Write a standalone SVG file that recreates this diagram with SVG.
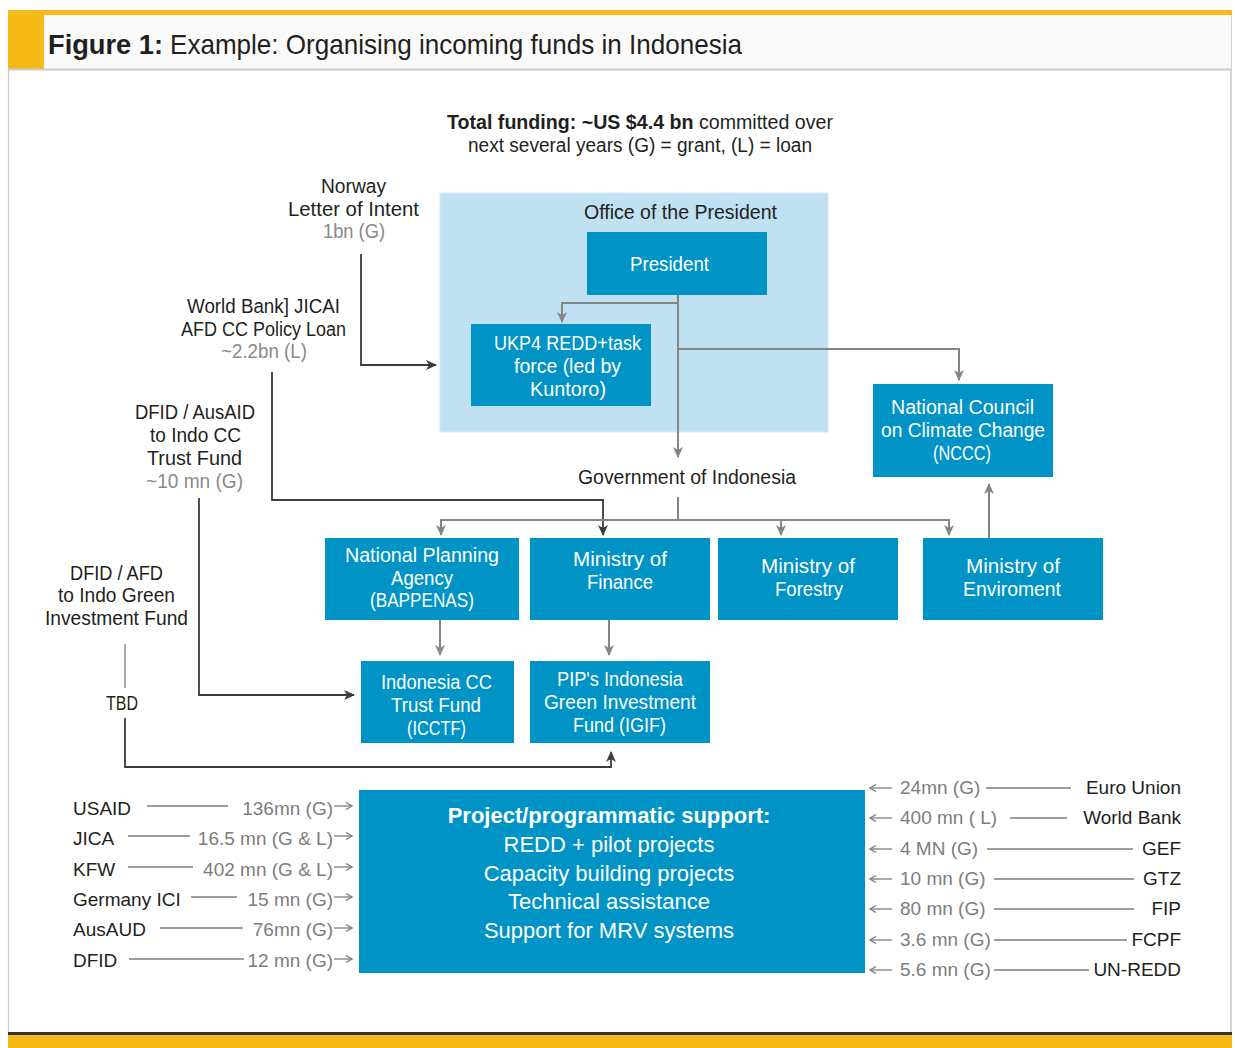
<svg xmlns="http://www.w3.org/2000/svg" width="1235" height="1048" viewBox="0 0 1235 1048">
<style>
.c{font-family:"Liberation Sans",Arial,sans-serif;font-size:20px;fill:#231f20}
.cw{font-family:"Liberation Sans",Arial,sans-serif;font-size:20px;fill:#ffffff}
.cg{font-family:"Liberation Sans",Arial,sans-serif;font-size:20px;fill:#8a8a8a}
.m{font-family:"Liberation Sans",Arial,sans-serif;font-size:19px;fill:#231f20}
.mg{font-family:"Liberation Sans",Arial,sans-serif;font-size:19px;fill:#7d7d7d}
.pw{font-family:"Liberation Sans",Arial,sans-serif;font-size:22px;fill:#ffffff;text-anchor:middle}
.box{fill:#0093c6}
.g{fill:none;stroke:#858585;stroke-width:2}
.d{fill:none;stroke:#3c3c3c;stroke-width:1.8}
.l{fill:none;stroke:#7d7d7d;stroke-width:1.3}
</style>
<defs>
<marker id="ag" markerWidth="12" markerHeight="12" refX="10" refY="6" orient="auto" markerUnits="userSpaceOnUse"><path d="M0,1 L11,6 L0,11 L3,6 z" fill="#858585"/></marker>
<marker id="ad" markerWidth="12" markerHeight="12" refX="10" refY="6" orient="auto" markerUnits="userSpaceOnUse"><path d="M0,1 L11,6 L0,11 L3,6 z" fill="#3c3c3c"/></marker>
<marker id="as" markerWidth="10" markerHeight="10" refX="8" refY="5" orient="auto" markerUnits="userSpaceOnUse"><path d="M2,1.5 L8,5 L2,8.5" fill="none" stroke="#7d7d7d" stroke-width="1.4"/></marker>
</defs>
<rect x="0" y="0" width="1235" height="1048" fill="#ffffff"/>
<g id="frame">
<line x1="8.5" y1="10" x2="8.5" y2="1035" stroke="#c8c8c8" stroke-width="1.2"/>
<line x1="1231" y1="10" x2="1231" y2="1035" stroke="#c8c8c8" stroke-width="1.5"/>
<rect x="44" y="15" width="1187" height="54" fill="#fafafa"/>
<rect x="8" y="10" width="1224" height="5" fill="#f5b918"/>
<rect x="8" y="10" width="36" height="59" fill="#f5b918"/>
<line x1="8" y1="69.5" x2="1232" y2="69.5" stroke="#cccccc" stroke-width="2"/>
<rect x="8" y="1032" width="1224" height="3" fill="#333333"/>
<rect x="8" y="1035" width="1224" height="13" fill="#f5b918"/>
<text x="48" y="54" style="font-family:'Liberation Sans',Arial,sans-serif;font-size:28px;font-weight:bold;fill:#231f20" textLength="115" lengthAdjust="spacingAndGlyphs">Figure 1:</text>
<text x="170" y="54" style="font-family:'Liberation Sans',Arial,sans-serif;font-size:28px;fill:#231f20" textLength="572" lengthAdjust="spacingAndGlyphs">Example: Organising incoming funds in Indonesia</text>
</g>
<g id="total">
<text x="447" y="129" class="c" textLength="386" lengthAdjust="spacingAndGlyphs"><tspan font-weight="bold">Total funding: ~US $4.4 bn</tspan> committed over</text>
<text x="468" y="152" class="c" textLength="344" lengthAdjust="spacingAndGlyphs">next several years (G) = grant, (L) = loan</text>
</g>
<g id="office">
<rect x="440" y="193" width="388" height="239" fill="#bfe1f1" stroke="#d6ecf7" stroke-width="1"/>
<text x="584" y="219" class="c" textLength="193" lengthAdjust="spacingAndGlyphs">Office of the President</text>
</g>
<g id="president">
<rect x="587" y="232" width="180" height="63" class="box"/>
<text x="630" y="271" class="cw" textLength="79" lengthAdjust="spacingAndGlyphs">President</text>
</g>
<g id="ukp4">
<rect x="471" y="324" width="180" height="82" class="box"/>
<text x="494" y="350" class="cw" textLength="147" lengthAdjust="spacingAndGlyphs">UKP4 REDD+task</text>
<text x="514" y="373" class="cw" textLength="107" lengthAdjust="spacingAndGlyphs">force (led by</text>
<text x="530" y="396" class="cw" textLength="76" lengthAdjust="spacingAndGlyphs">Kuntoro)</text>
</g>
<g id="nccc">
<rect x="873" y="384" width="180" height="93" class="box"/>
<text x="891" y="414" class="cw" textLength="143" lengthAdjust="spacingAndGlyphs">National Council</text>
<text x="881" y="437" class="cw" textLength="164" lengthAdjust="spacingAndGlyphs">on Climate Change</text>
<text x="933" y="460" class="cw" textLength="58" lengthAdjust="spacingAndGlyphs">(NCCC)</text>
</g>
<g id="government">
<text x="578" y="484" class="c" textLength="218" lengthAdjust="spacingAndGlyphs">Government of Indonesia</text>
</g>
<g id="bappenas">
<rect x="325" y="538" width="194" height="82" class="box"/>
<text x="345" y="562" class="cw" textLength="154" lengthAdjust="spacingAndGlyphs">National Planning</text>
<text x="391" y="585" class="cw" textLength="62" lengthAdjust="spacingAndGlyphs">Agency</text>
<text x="370" y="607" class="cw" textLength="104" lengthAdjust="spacingAndGlyphs">(BAPPENAS)</text>
</g>
<g id="finance">
<rect x="530" y="538" width="180" height="82" class="box"/>
<text x="573" y="566" class="cw" textLength="94" lengthAdjust="spacingAndGlyphs">Ministry of</text>
<text x="587" y="589" class="cw" textLength="66" lengthAdjust="spacingAndGlyphs">Finance</text>
</g>
<g id="forestry">
<rect x="718" y="538" width="180" height="82" class="box"/>
<text x="761" y="573" class="cw" textLength="94" lengthAdjust="spacingAndGlyphs">Ministry of</text>
<text x="775" y="596" class="cw" textLength="68" lengthAdjust="spacingAndGlyphs">Forestry</text>
</g>
<g id="environment">
<rect x="923" y="538" width="180" height="82" class="box"/>
<text x="966" y="573" class="cw" textLength="94" lengthAdjust="spacingAndGlyphs">Ministry of</text>
<text x="963" y="596" class="cw" textLength="98" lengthAdjust="spacingAndGlyphs">Enviroment</text>
</g>
<g id="icctf">
<rect x="361" y="661" width="153" height="82" class="box"/>
<text x="381" y="689" class="cw" textLength="111" lengthAdjust="spacingAndGlyphs">Indonesia CC</text>
<text x="391" y="712" class="cw" textLength="90" lengthAdjust="spacingAndGlyphs">Trust Fund</text>
<text x="407" y="735" class="cw" textLength="59" lengthAdjust="spacingAndGlyphs">(ICCTF)</text>
</g>
<g id="igif">
<rect x="530" y="661" width="180" height="82" class="box"/>
<text x="557" y="686" class="cw" textLength="126" lengthAdjust="spacingAndGlyphs">PIP's Indonesia</text>
<text x="544" y="709" class="cw" textLength="152" lengthAdjust="spacingAndGlyphs">Green Investment</text>
<text x="573" y="732" class="cw" textLength="93" lengthAdjust="spacingAndGlyphs">Fund (IGIF)</text>
</g>
<g id="norway">
<text x="321" y="193" class="c" textLength="65" lengthAdjust="spacingAndGlyphs">Norway</text>
<text x="288" y="216" class="c" textLength="131" lengthAdjust="spacingAndGlyphs">Letter of Intent</text>
<text x="323" y="238" class="cg" textLength="62" lengthAdjust="spacingAndGlyphs">1bn (G)</text>
</g>
<g id="worldbank-loan">
<text x="187" y="313" class="c" textLength="153" lengthAdjust="spacingAndGlyphs">World Bank] JICAI</text>
<text x="181" y="336" class="c" textLength="165" lengthAdjust="spacingAndGlyphs">AFD CC Policy Loan</text>
<text x="221" y="358" class="cg" textLength="86" lengthAdjust="spacingAndGlyphs">~2.2bn (L)</text>
</g>
<g id="dfid-ausaid">
<text x="135" y="419" class="c" textLength="120" lengthAdjust="spacingAndGlyphs">DFID / AusAID</text>
<text x="150" y="442" class="c" textLength="91" lengthAdjust="spacingAndGlyphs">to Indo CC</text>
<text x="147" y="465" class="c" textLength="95" lengthAdjust="spacingAndGlyphs">Trust  Fund</text>
<text x="146" y="488" class="cg" textLength="97" lengthAdjust="spacingAndGlyphs">~10 mn (G)</text>
</g>
<g id="dfid-afd">
<text x="70" y="580" class="c" textLength="93" lengthAdjust="spacingAndGlyphs">DFID / AFD</text>
<text x="58" y="602" class="c" textLength="117" lengthAdjust="spacingAndGlyphs">to Indo Green</text>
<text x="45" y="625" class="c" textLength="143" lengthAdjust="spacingAndGlyphs">Investment Fund</text>
<text x="106" y="710" class="c" textLength="32" lengthAdjust="spacingAndGlyphs">TBD</text>
</g>
<g id="project">
<rect x="359" y="790" width="506" height="183" class="box"/>
<text x="609" y="823" class="pw" font-weight="bold">Project/programmatic support:</text>
<text x="609" y="852" class="pw">REDD + pilot projects</text>
<text x="609" y="881" class="pw">Capacity building projects</text>
<text x="609" y="909" class="pw">Technical assistance</text>
<text x="609" y="938" class="pw">Support for MRV systems</text>
</g>
<g id="donors-left">
<text x="73" y="815" class="m">USAID</text>
<text x="333" y="815" class="mg" text-anchor="end">136mn (G)</text>
<text x="73" y="845" class="m">JICA</text>
<text x="333" y="845" class="mg" text-anchor="end">16.5 mn (G &amp; L)</text>
<text x="73" y="876" class="m">KFW</text>
<text x="333" y="876" class="mg" text-anchor="end">402 mn (G &amp; L)</text>
<text x="73" y="906" class="m">Germany ICI</text>
<text x="333" y="906" class="mg" text-anchor="end">15 mn (G)</text>
<text x="73" y="936" class="m">AusAUD</text>
<text x="333" y="936" class="mg" text-anchor="end">76mn (G)</text>
<text x="73" y="967" class="m">DFID</text>
<text x="333" y="967" class="mg" text-anchor="end">12 mn (G)</text>
</g>
<g id="donors-right">
<text x="900" y="794" class="mg">24mn (G)</text>
<text x="1181" y="794" class="m" text-anchor="end">Euro Union</text>
<text x="900" y="824" class="mg">400 mn ( L)</text>
<text x="1181" y="824" class="m" text-anchor="end">World Bank</text>
<text x="900" y="855" class="mg">4 MN (G)</text>
<text x="1181" y="855" class="m" text-anchor="end">GEF</text>
<text x="900" y="885" class="mg">10 mn (G)</text>
<text x="1181" y="885" class="m" text-anchor="end">GTZ</text>
<text x="900" y="915" class="mg">80 mn (G)</text>
<text x="1181" y="915" class="m" text-anchor="end">FIP</text>
<text x="900" y="946" class="mg">3.6 mn (G)</text>
<text x="1181" y="946" class="m" text-anchor="end">FCPF</text>
<text x="900" y="976" class="mg">5.6 mn (G)</text>
<text x="1181" y="976" class="m" text-anchor="end">UN-REDD</text>
</g>
<g id="connectors">
<path class="d" d="M361,254 V365 H436" marker-end="url(#ad)"/>
<path class="d" d="M272,372 V500 H603 V535" marker-end="url(#ad)"/>
<path class="d" d="M199,498 V695 H354" marker-end="url(#ad)"/>
<path class="l" d="M125,644 V688"/>
<path class="d" d="M125,718 V767 H611 V752" marker-end="url(#ad)"/>
<path class="g" d="M678,295 V457" marker-end="url(#ag)"/>
<path class="g" d="M678,303 H562 V322" marker-end="url(#ag)"/>
<path class="g" d="M678,349 H959 V380" marker-end="url(#ag)"/>
<path class="g" d="M678,497 V520"/>
<path class="g" d="M441,535 V520 H949 V535" marker-end="url(#ag)"/>
<path class="g" d="M441,520 V535" marker-end="url(#ag)"/>
<path class="g" d="M781,520 V535" marker-end="url(#ag)"/>
<path class="g" d="M989,538 V484" marker-end="url(#ag)"/>
<path class="g" d="M440,620 V655" marker-end="url(#ag)"/>
<path class="g" d="M609,620 V655" marker-end="url(#ag)"/>
<path class="l" d="M147,806 H228"/><path class="l" d="M334,806 H352" marker-end="url(#as)"/>
<path class="l" d="M128,836 H190"/><path class="l" d="M334,836 H352" marker-end="url(#as)"/>
<path class="l" d="M128,867 H193"/><path class="l" d="M334,867 H352" marker-end="url(#as)"/>
<path class="l" d="M191,897 H237"/><path class="l" d="M334,897 H352" marker-end="url(#as)"/>
<path class="l" d="M160,928 H243"/><path class="l" d="M334,928 H352" marker-end="url(#as)"/>
<path class="l" d="M129,959 H244"/><path class="l" d="M334,959 H352" marker-end="url(#as)"/>
<path class="l" d="M892,788 H870" marker-end="url(#as)"/><path class="l" d="M986,788 H1071"/>
<path class="l" d="M892,818 H870" marker-end="url(#as)"/><path class="l" d="M1010,818 H1067"/>
<path class="l" d="M892,849 H870" marker-end="url(#as)"/><path class="l" d="M987,849 H1133"/>
<path class="l" d="M892,879 H870" marker-end="url(#as)"/><path class="l" d="M994,879 H1134"/>
<path class="l" d="M892,909 H870" marker-end="url(#as)"/><path class="l" d="M994,909 H1134"/>
<path class="l" d="M892,940 H870" marker-end="url(#as)"/><path class="l" d="M994,940 H1127"/>
<path class="l" d="M892,970 H870" marker-end="url(#as)"/><path class="l" d="M994,970 H1089"/>
</g>
</svg>
